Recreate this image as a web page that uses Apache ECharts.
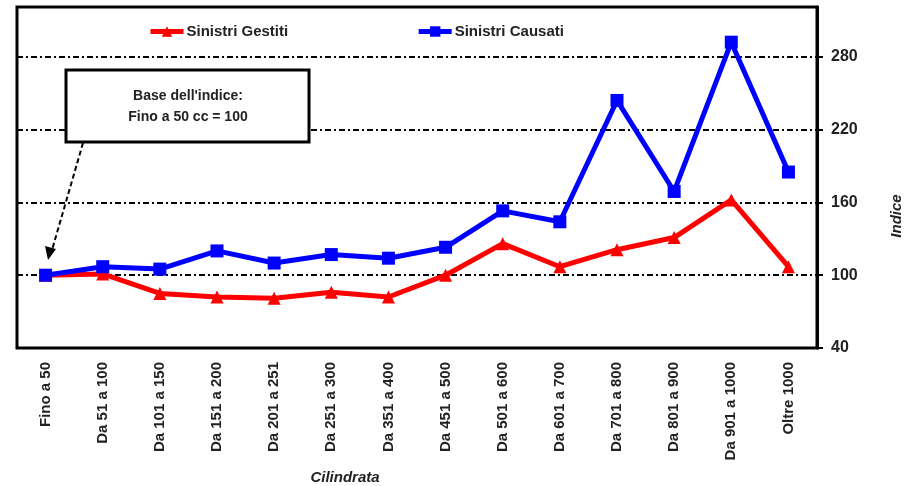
<!DOCTYPE html>
<html>
<head>
<meta charset="utf-8">
<script src="https://cdn.jsdelivr.net/npm/echarts@6/dist/echarts.min.js"></script>
<style>
  html, body { margin: 0; padding: 0; background: #fff; }
  #chart { width: 904px; height: 486px; }
</style>
</head>
<body>
<div id="chart"></div>
<script>
// dati
var categorie = ['Fino a 50', 'Da 51 a 100', 'Da 101 a 150', 'Da 151 a 200', 'Da 201 a 251',
  'Da 251 a 300', 'Da 351 a 400', 'Da 451 a 500', 'Da 501 a 600', 'Da 601 a 700',
  'Da 701 a 800', 'Da 801 a 900', 'Da 901 a 1000', 'Oltre 1000'];
var gestiti = [100, 101, 85, 82, 81, 86, 82, 100, 126, 107, 121, 131, 162, 107];
var causati = [100, 107, 105, 120, 110, 117, 114, 123, 153, 144, 244, 169, 292, 185];
var yMin = 40, yMax = 321, yStep = 60;

var chart = echarts.init(document.getElementById('chart'));

var dashDot = [6, 3, 2, 3];
var font = 'Liberation Sans, Arial, sans-serif';

var option = {
  animation: false,
  textStyle: { fontFamily: font },
  legend: {
    top: 24,
    left: 148,
    padding: 0,
    itemGap: 128,
    itemWidth: 33,
    itemHeight: 13,
    lineStyle: { width: 5 },
    textStyle: { fontSize: 15, fontWeight: 'bold', color: '#222', fontFamily: font, padding: [0, 0, 0, -2] },
    data: ['Sinistri Gestiti', 'Sinistri Causati']
  },
  grid: {
    left: 17, right: 87, top: 7, bottom: 138,
    show: true, borderColor: '#000', borderWidth: 3, backgroundColor: '#fff'
  },
  xAxis: {
    type: 'category',
    data: categorie,
    boundaryGap: true,
    axisLine: { show: false },
    axisTick: { show: false },
    axisLabel: {
      rotate: 90, interval: 0, margin: 14,
      fontSize: 15, fontWeight: 'bold', color: '#222', fontFamily: font
    }
  },
  yAxis: {
    type: 'value',
    position: 'right',
    min: yMin, max: yMax, interval: yStep,
    axisLine: { show: true, lineStyle: { color: '#000', width: 3 } },
    axisTick: { show: true, inside: false, length: 6, lineStyle: { color: '#000', width: 2 } },
    axisLabel: {
      showMaxLabel: false, margin: 14,
      fontSize: 16, fontWeight: 'bold', color: '#222', fontFamily: font
    },
    splitLine: { show: true, lineStyle: { color: '#000', width: 2, type: dashDot } }
  },
  series: [
    {
      name: 'Sinistri Gestiti',
      type: 'line',
      data: gestiti,
      symbol: 'triangle',
      symbolSize: 13,
      color: '#ff0000',
      lineStyle: { width: 5, color: '#ff0000' },
      itemStyle: { color: '#ff0000' },
      z: 3
    },
    {
      name: 'Sinistri Causati',
      type: 'line',
      data: causati,
      symbol: 'rect',
      symbolSize: 13,
      color: '#0000ff',
      lineStyle: { width: 5, color: '#0000ff' },
      itemStyle: { color: '#0000ff' },
      z: 4
    }
  ],
  graphic: [
    {
      type: 'rect',
      shape: { x: 66, y: 70, width: 243, height: 72 },
      style: { fill: '#fff', stroke: '#000', lineWidth: 3 },
      z: 100
    },
    {
      type: 'text',
      x: 188, y: 107,
      style: {
        text: "Base dell'indice:\nFino a 50 cc = 100",
        align: 'center', verticalAlign: 'middle',
        fontSize: 14, fontWeight: 'bold', lineHeight: 21,
        fill: '#222', fontFamily: font
      },
      z: 101
    },
    {
      type: 'line',
      shape: { x1: 83, y1: 143, x2: 52, y2: 250 },
      style: { stroke: '#000', lineWidth: 2, lineDash: [5, 3] },
      z: 100
    },
    {
      type: 'polygon',
      shape: { points: [[48, 260], [45, 246], [56, 249]] },
      style: { fill: '#000' },
      z: 100
    },
    {
      type: 'text',
      x: 345, y: 478,
      style: {
        text: 'Cilindrata', align: 'center', verticalAlign: 'middle',
        fontSize: 15, fontStyle: 'italic', fontWeight: 'bold',
        fill: '#222', fontFamily: font
      }
    },
    {
      type: 'text',
      x: 897, y: 216,
      rotation: Math.PI / 2,
      style: {
        text: 'Indice', align: 'center', verticalAlign: 'middle',
        fontSize: 15, fontStyle: 'italic', fontWeight: 'bold',
        fill: '#222', fontFamily: font
      }
    }
  ]
};

chart.setOption(option);
</script>
</body>
</html>
